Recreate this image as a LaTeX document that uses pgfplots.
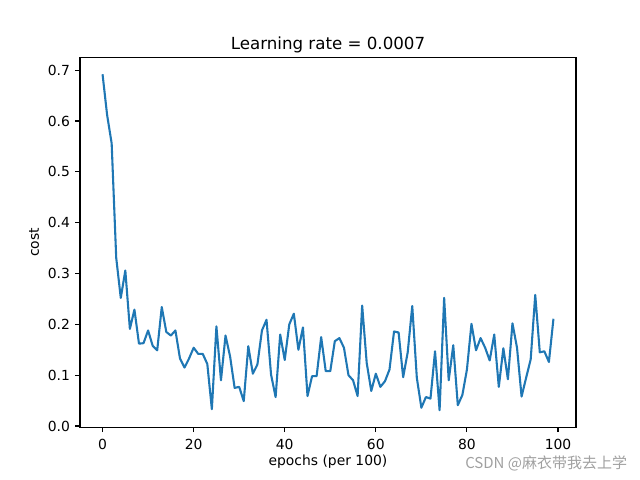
\documentclass[border=0pt]{standalone}
\usepackage{pgfplots}
\pgfplotsset{compat=1.18}
\usepackage{fontspec}
\setmainfont{DejaVu Sans}
\newfontfamily\cjk{Noto Sans CJK SC}
\definecolor{tabblue}{HTML}{1F77B4}
\definecolor{wmgray}{RGB}{160,160,160}
\pgfplotstableread{
x y
0 0.692
1 0.612
2 0.556
3 0.331
4 0.252
5 0.306
6 0.191
7 0.229
8 0.162
9 0.163
10 0.188
11 0.158
12 0.149
13 0.234
14 0.185
15 0.178
16 0.188
17 0.133
18 0.115
19 0.133
20 0.154
21 0.142
22 0.142
23 0.122
24 0.033
25 0.196
26 0.090
27 0.178
28 0.137
29 0.075
30 0.077
31 0.049
32 0.157
33 0.103
34 0.121
35 0.188
36 0.209
37 0.101
38 0.057
39 0.180
40 0.130
41 0.200
42 0.221
43 0.150
44 0.194
45 0.059
46 0.098
47 0.098
48 0.175
49 0.108
50 0.108
51 0.167
52 0.173
53 0.154
54 0.100
55 0.090
56 0.059
57 0.237
58 0.124
59 0.069
60 0.103
61 0.077
62 0.088
63 0.111
64 0.186
65 0.184
66 0.096
67 0.145
68 0.236
69 0.095
70 0.036
71 0.057
72 0.054
73 0.147
74 0.031
75 0.252
76 0.090
77 0.159
78 0.041
79 0.061
80 0.111
81 0.201
82 0.149
83 0.173
84 0.154
85 0.129
86 0.180
87 0.077
88 0.153
89 0.092
90 0.202
91 0.154
92 0.058
93 0.095
94 0.131
95 0.258
96 0.145
97 0.147
98 0.126
99 0.211
}\costdata
\begin{document}
\begin{tikzpicture}[x=1pt,y=1pt]
\path[use as bounding box] (0,0) rectangle (460.8,345.6);
\begin{axis}[
  at={(57.6pt,38.016pt)}, anchor=south west,
  scale only axis, width=357.12pt, height=266.11pt,
  xmin=-4.95, xmax=103.95, ymin=-0.0023, ymax=0.7247,
  xtick={0,20,40,60,80,100},
  ytick={0,0.1,0.2,0.3,0.4,0.5,0.6,0.7},
  yticklabel style={/pgf/number format/fixed, /pgf/number format/fixed zerofill, /pgf/number format/precision=1},
  /pgf/number format/assume math mode=true,
  tick pos=left, tick align=outside, major tick length=3.5pt,
  tick style={black, line width=0.8pt},
  axis line style={black, line width=0.8pt},
  ticklabel style={font=\fontsize{10}{12}\selectfont, inner sep=0pt},
  xticklabel style={anchor=north, yshift=-5.2pt},
  yticklabel style={anchor=east, xshift=-3.5pt},
  title={Learning rate = 0.0007},
  every axis title/.style={at={(axis description cs:0.5,1.0225)}, anchor=base, font=\fontsize{12}{14}\selectfont, inner sep=0pt},
  xlabel={epochs (per 100)},
  xlabel style={at={(axis description cs:0.5,-0.1036)}, anchor=base, font=\fontsize{10}{12}\selectfont, inner sep=0pt},
  ylabel={cost},
  ylabel style={at={(axis description cs:-0.0827,0.5)}, anchor=base, font=\fontsize{10}{12}\selectfont, inner sep=0pt},
]
\addplot[tabblue, line width=1.5pt, line join=round, mark=none] table[x=x,y=y] {\costdata};
\end{axis}
\node[anchor=base west, inner sep=0pt, text=wmgray, font=\fontsize{10.8}{13}\selectfont] at (334.8,8.2) {\cjk CSDN @麻衣带我去上学};
\end{tikzpicture}
\end{document}
